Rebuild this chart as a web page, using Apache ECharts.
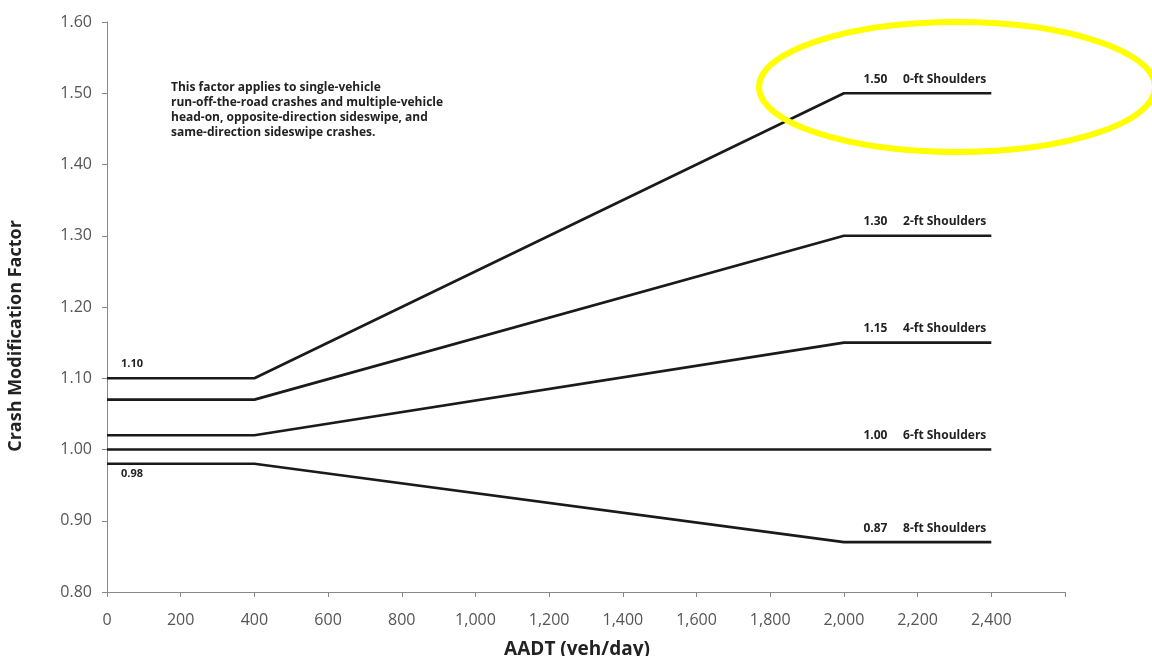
<!DOCTYPE html>
<html><head><meta charset="utf-8">
<script src="https://cdn.jsdelivr.net/npm/echarts@6/dist/echarts.min.js"></script>
<style>html,body{margin:0;padding:0;background:#fff}#c{width:1152px;height:656px}</style>
</head><body><div id="c"></div>
<script>
const xs = [0, 400, 2000, 2400];
const shoulder0 = [1.10, 1.10, 1.50, 1.50];
const shoulder2 = [1.07, 1.07, 1.30, 1.30];
const shoulder4 = [1.02, 1.02, 1.15, 1.15];
const shoulder6 = [1.00, 1.00, 1.00, 1.00];
const shoulder8 = [0.98, 0.98, 0.87, 0.87];
const seriesNames = ['0-ft Shoulders', '2-ft Shoulders', '4-ft Shoulders', '6-ft Shoulders', '8-ft Shoulders'];
const seriesVals = [shoulder0, shoulder2, shoulder4, shoulder6, shoulder8];
const note = 'This factor applies to single-vehicle\nrun-off-the-road crashes and multiple-vehicle\nhead-on, opposite-direction sideswipe, and\nsame-direction sideswipe crashes.';

const FONT = '"Open Sans", "Noto Sans", sans-serif';
const chart = echarts.init(document.getElementById('c'));
const lblStyle = { fontFamily: FONT, fontWeight: 'bold', fontSize: 11, color: '#222' };

function mkSeries(i) {
  const vals = seriesVals[i];
  const data = xs.map((x, k) => [x, vals[k]]);
  const s = {
    type: 'line', name: seriesNames[i], data: data,
    symbol: 'none', silent: true,
    lineStyle: { color: '#1a1a1a', width: 2.6 }, z: 3,
    endLabel: Object.assign({}, lblStyle, {
      show: true, align: 'right', verticalAlign: 'bottom', offset: [-13, -8], fontSize: 12,
      formatter: vals[vals.length - 1].toFixed(2) + '     ' + seriesNames[i]
    })
  };
  if (i === 0 || i === 4) {
    s.markPoint = {
      symbol: 'circle', symbolSize: 0, silent: true,
      data: [{ coord: [xs[0], vals[0]], value: vals[0].toFixed(2) }],
      label: Object.assign({
        show: true, position: i === 0 ? [14, -20] : [14, 5], formatter: '{c}'
      }, lblStyle)
    };
  }
  return s;
}

chart.setOption({
  animation: false,
  grid: { left: 107, right: 87, top: 22, bottom: 64, containLabel: false, outerBoundsMode: 'none' },
  xAxis: {
    type: 'value', min: 0, max: 2600, interval: 200,
    name: 'AADT (veh/day)', nameLocation: 'middle', nameGap: 48,
    nameTextStyle: { fontFamily: FONT, fontWeight: 'bold', fontSize: 19, color: '#222', padding: [0, 18, 0, 0] },
    axisLine: { lineStyle: { color: '#888', width: 1 } },
    axisTick: { show: true, length: 5, lineStyle: { color: '#888' } },
    splitLine: { show: false },
    axisLabel: {
      fontFamily: FONT, fontSize: 16, color: '#555', margin: 20,
      formatter: v => v > 2400 ? '' : v.toLocaleString('en-US')
    }
  },
  yAxis: {
    type: 'value', min: 0.8, max: 1.6, interval: 0.1,
    name: 'Crash Modification Factor', nameLocation: 'middle', nameGap: 82,
    nameTextStyle: { fontFamily: FONT, fontWeight: 'bold', fontSize: 18, color: '#222', padding: [0, 58, 0, 0] },
    axisLine: { show: true, lineStyle: { color: '#888', width: 1 } },
    axisTick: { show: true, length: 5, lineStyle: { color: '#888' } },
    splitLine: { show: false },
    axisLabel: { fontFamily: FONT, fontSize: 16, color: '#555', margin: 15, formatter: v => v.toFixed(2) }
  },
  series: [0, 1, 2, 3, 4].map(mkSeries),
  graphic: [
    { type: 'text', left: 171, top: 80, z: 10,
      style: { text: note, fontFamily: FONT, fontWeight: 'bold', fontSize: 12, lineHeight: 15, fill: '#222' } },
    { type: 'ellipse', z: 20, shape: { cx: 957, cy: 87, rx: 198, ry: 65 },
      style: { fill: 'none', stroke: '#ffff00', lineWidth: 6 } }
  ]
});
</script></body></html>
